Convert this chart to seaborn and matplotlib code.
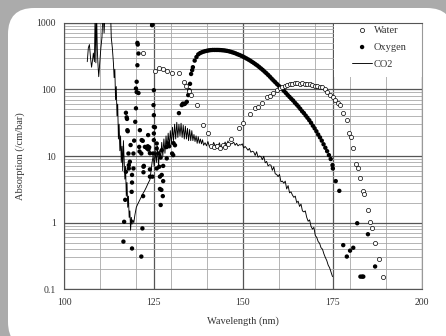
import numpy as np
import pandas as pd
import matplotlib
matplotlib.use("Agg")
import matplotlib.pyplot as plt
from matplotlib.patches import FancyBboxPatch, Rectangle
from matplotlib.ticker import FixedLocator, NullFormatter
import seaborn as sns

# ── Data ───────────────────────────────────────────────────────────
water_nm = [122.0, 125.3, 126.6, 127.7, 128.7, 130.2, 132.2, 133.5, 134.1, 134.8,
            135.4, 137.1, 138.9, 140.3, 141.2, 142.0, 142.8, 143.6, 144.3, 145.0,
            145.7, 146.6, 148.9, 150.1, 152.0, 153.4, 154.1, 155.2, 156.8, 157.6,
            158.5, 159.4, 160.3, 161.0, 161.7, 162.4, 163.1, 163.8, 164.5, 165.2,
            165.9, 166.6, 167.3, 168.0, 168.7, 169.4, 170.1, 170.8, 171.5, 172.2,
            172.9, 173.6, 174.3, 175.0, 175.7, 176.4, 177.1, 178.0, 179.0, 179.7,
            180.1, 180.8, 181.7, 182.2, 182.8, 183.6, 183.8, 184.9, 185.4, 185.9,
            186.9, 188.1, 189.0]
water_abs = [357, 190, 206, 199, 189, 177, 177, 129, 112, 95,
             82, 58, 29, 22, 14, 13.5, 14, 13, 14.5, 13.5,
             15, 18, 26, 31, 42.5, 52, 55, 61.5, 75.5, 80,
             87, 97, 103, 108, 112, 116, 120, 122, 123, 124,
             122, 123, 121, 122, 120, 117, 114, 112, 110, 107,
             100, 90, 82, 76, 70, 63, 58, 43.5, 34.5, 21.8,
             19.4, 13.3, 7.7, 6.6, 4.7, 3.0, 2.7, 1.55, 1.03, 0.84,
             0.49, 0.28, 0.155]

oxygen_nm = [
    # scattered band structure 116-131 nm
    116.6, 116.8, 117.1, 117.3, 117.5, 117.6, 117.7, 117.8, 118.0, 118.1,
    118.1, 117.3, 118.4, 118.6, 118.9, 119.0, 119.0, 119.0, 119.4, 119.4,
    119.6, 119.9, 120.1, 120.1, 120.3, 120.3, 120.5, 120.8, 120.5, 120.6,
    120.8, 121.0, 121.1, 121.2, 121.6, 121.6, 121.7, 121.9, 122.0, 122.1,
    122.2, 122.2, 122.3, 122.6, 123.2, 123.4, 123.6, 123.5, 123.8, 124.0,
    124.0, 124.0, 124.6, 124.7, 124.7, 124.9, 125.0, 125.1, 125.1, 125.1,
    125.4, 125.1, 125.1, 125.9, 125.9, 125.9, 126.3, 126.6, 126.8, 126.8,
    127.0, 127.0, 127.2, 127.3, 127.3, 127.6, 127.7, 127.7, 128.6, 128.7,
    129.1, 129.4, 130.2, 130.5, 130.6, 131.0,
    # continuum
    132.1, 132.9, 133.2, 133.5, 133.8, 134.3, 134.7, 135.0, 135.2, 135.5,
    135.8, 136.0, 136.5, 137.0, 137.5, 138.0, 138.5, 139.0, 139.5, 140.0,
    140.5, 141.0, 141.5, 142.0, 142.5, 143.0, 143.5, 144.0, 144.5, 145.0,
    145.5, 146.0, 146.5, 147.0, 147.5, 148.0, 148.5, 149.0, 149.5, 150.0,
    150.5, 151.0, 151.5, 152.0, 152.5, 153.0, 153.5, 154.0, 154.5, 155.0,
    155.5, 156.0, 156.5, 157.0, 157.5, 158.0, 158.5, 159.0, 159.5, 160.0,
    160.5, 161.0, 161.5, 162.0, 162.5, 163.0, 163.5, 164.0, 164.5, 165.0,
    165.5, 166.0, 166.5, 167.0, 167.5, 168.0, 168.5, 169.0, 169.5, 170.0,
    170.5, 171.0, 171.5, 172.0, 172.5, 173.0, 173.5, 174.0, 174.5, 175.0,
    175.1,
    # tail
    175.9, 176.9, 178.0, 179.0, 179.9, 180.8, 181.9, 182.8, 183.3, 183.6,
    184.9, 186.9]
oxygen_abs = [
    0.52, 1.03, 2.2, 44.5, 38, 36, 24.4, 23.5, 10.9, 7.3,
    6.5, 5.8, 8.2, 14.6, 2.9, 4.0, 5.2, 0.41, 10.9, 6.5,
    17, 32.6, 52, 103, 91, 130, 230, 345, 498, 470,
    88, 13.7, 11.7, 24.4, 10.9, 0.31, 17.3, 0.82, 16.9, 2.5,
    5.7, 6.9, 7.1, 13.7, 13, 14, 12.5, 20.6, 13.5, 6.3,
    11, 4.9, 917, 950, 4.9, 10.9, 58, 97, 41, 27.4,
    27, 21.8, 17.3, 13, 15.4, 6.5, 10.9, 6.9, 4.9, 3.2,
    9.5, 1.84, 3.1, 12.2, 5.2, 2.5, 7.1, 4.2, 13.6, 9.2,
    15.4, 14, 10.9, 10.3, 15.6, 14.5,
    44, 58, 61, 60, 61, 65, 82, 97, 121, 170,
    194, 215, 270, 305, 335, 350, 360, 368, 375, 380,
    385, 388, 390, 390, 390, 390, 389, 387, 385, 382,
    378, 373, 367, 360, 353, 345, 336, 328, 319, 310,
    300, 290, 280, 270, 259, 249, 238, 228, 217, 206,
    196, 185, 175, 165, 155, 145, 136, 128, 120, 113,
    106, 100, 94, 88, 82, 77, 72, 68, 63, 59,
    55, 51, 47, 44, 40.5, 37.5, 34.5, 31.5, 28.5, 26,
    23.5, 21, 19, 17, 15, 13.3, 11.8, 10.3, 9, 7.3,
    6.5,
    4.2, 3.0, 0.46, 0.31, 0.38, 0.42, 0.98, 0.155, 0.155, 0.155,
    0.67, 0.22]

co2_nm = [106.5, 106.8, 107.1, 107.4, 107.7, 108.0, 108.2, 108.5, 108.7, 108.9,
          109.1, 109.3, 109.5, 109.7, 110.0, 110.3, 110.6, 110.9, 111.2, 111.5,
          111.8, 112.5, 113.0, 113.2, 113.5, 113.8, 114.0, 114.2, 114.4, 114.6,
          114.8, 115.0, 115.2, 115.4, 115.6, 115.8, 116.0, 116.2, 116.4, 116.6,
          116.8, 117.0, 117.2, 117.4, 117.6, 117.8, 118.0, 118.2, 118.4, 118.6,
          118.8, 119.0, 119.2, 119.5, 119.8, 120.2, 120.6, 121.0, 121.5, 122.0,
          122.5, 123.0, 123.5, 124.0, 124.3, 124.6, 124.9, 125.2, 125.5, 125.8,
          126.1, 126.4, 126.7, 127.0, 127.3, 127.6, 127.9, 128.2, 128.5, 128.8,
          129.1, 129.4, 129.7, 130.0, 130.3, 130.6, 130.9, 131.2, 131.5, 131.8,
          132.1, 132.4, 132.7, 133.0, 133.3, 133.6, 133.9, 134.2, 134.5, 134.8,
          135.1, 135.4, 135.7, 136.0, 136.3, 136.6, 136.9, 137.2, 137.5, 137.8,
          138.1, 138.4, 138.7, 139.0, 139.4, 139.8, 140.2, 140.6, 141.0, 141.4,
          141.8, 142.2, 142.6, 143.0, 143.4, 143.8, 144.2, 144.6, 145.0, 145.4,
          145.8, 146.2, 146.6, 147.0, 147.4, 147.8, 148.2, 148.6, 149.0, 149.4,
          149.8, 150.2, 150.6, 151.0, 151.4, 151.8, 152.2, 152.6, 153.0, 153.4,
          153.8, 154.2, 154.6, 155.0, 155.4, 155.8, 156.2, 156.6, 157.0, 157.4,
          157.8, 158.2, 158.6, 159.0, 159.4, 159.8, 160.2, 160.6, 161.0, 161.4,
          161.8, 162.2, 162.6, 163.0, 163.4, 163.8, 164.2, 164.6, 165.0, 165.4,
          165.8, 166.2, 166.6, 167.0, 167.4, 167.8, 168.2, 168.6, 169.0, 169.4,
          169.8, 170.2, 170.6, 171.0, 171.4, 171.8, 172.2, 172.6, 173.0, 173.4,
          173.8, 174.2, 174.6, 175.0]
co2_abs = [260, 420, 470, 300, 215, 280, 350, 260, 1500, 250,
           1500, 400, 230, 155, 260, 420, 600, 1500, 700, 1500,
           1500, 1500, 1500, 600, 420, 250, 150, 200, 70, 110,
           40, 60, 18, 30, 12, 20, 8, 14, 6, 17,
           9, 4.5, 7, 2.5, 4, 1.7, 2.5, 1.2, 1.5, 0.77,
           1.2, 0.95, 1.1, 1.0, 1.3, 1.7, 1.9, 2.1, 2.4, 2.7,
           3.0, 3.4, 3.9, 4.4, 6, 8, 10, 7, 12, 8,
           14, 7, 12, 9, 16, 10, 18, 11, 20, 13,
           22, 14, 24, 15, 27, 17, 30, 18, 32, 19,
           30, 20, 31, 19, 29, 18, 28, 18, 26, 17,
           25, 17, 24, 17, 21, 16.5, 20, 15.5, 19.5, 15.5,
           18, 15.2, 17.5, 14.5, 15.8, 14.2, 16.5, 13.8, 14.6, 13.5,
           16, 14.2, 14.8, 13.6, 15.8, 13.4, 14.5, 14.1, 16.2, 14.3,
           16.8, 14.6, 15.2, 15.4, 16.1, 14.5, 15.5, 14.2, 14.8, 14.6,
           15.2, 13.2, 13.9, 13.1, 12.2, 13.0, 11.4, 11.8, 11.5, 10.2,
           11.6, 9.6, 10.0, 9.8, 8.8, 9.9, 7.9, 8.3, 7.1, 7.4,
           7.3, 6.1, 6.9, 5.4, 5.3, 4.9, 5.3, 4.1, 4.2, 3.9,
           4.2, 3.2, 3.6, 2.8, 2.9, 2.6, 2.4, 2.5, 2.0, 2.1,
           1.75, 1.9, 1.5, 1.45, 1.5, 1.2, 1.05, 1.1, 0.88, 0.8,
           0.85, 0.64, 0.6, 0.52, 0.49, 0.42, 0.4, 0.34, 0.3, 0.27,
           0.23, 0.21, 0.18, 0.155]

x_ticks = [100, 125, 150, 175, 200]
y_ticks = [0.1, 1, 10, 100, 1000]
y_tick_labels = ["0.1", "1", "10", "100", "1000"]

water = pd.DataFrame({"nm": water_nm, "abs": water_abs})
oxygen = pd.DataFrame({"nm": oxygen_nm, "abs": oxygen_abs})
co2 = pd.DataFrame({"nm": co2_nm, "abs": co2_abs})

# ── Style ──────────────────────────────────────────────────────────
sns.set_style("white")
plt.rcParams["font.family"] = ["Liberation Serif", "DejaVu Serif"]
plt.rcParams["font.size"] = 7

fig = plt.figure(figsize=(4.46, 3.36), dpi=100)
fig.patch.set_facecolor("#ababab")

# white rounded card behind the chart (own axes at the very back)
bg = fig.add_axes([0, 0, 1, 1], zorder=-10)
bg.set_axis_off()
bg.set_xlim(0, 446)
bg.set_ylim(0, 336)
bg.add_patch(FancyBboxPatch((8, -12), 445, 340,
                            boxstyle="round,pad=0,rounding_size=26",
                            facecolor="white", edgecolor="none"))

ax = fig.add_axes([64 / 446, 1 - 289.3 / 336, 358 / 446, 266.6 / 336])
ax.set_facecolor("white")

# ── Plot ───────────────────────────────────────────────────────────
sns.lineplot(data=co2, x="nm", y="abs", ax=ax, sort=False, color="black",
             linewidth=0.65, label="CO2", zorder=3)
sns.scatterplot(data=oxygen, x="nm", y="abs", ax=ax, marker="o", s=10,
                color="black", edgecolor="none", label="Oxygen", zorder=4)
sns.scatterplot(data=water, x="nm", y="abs", ax=ax, marker="o", s=9,
                facecolor="white", edgecolor="black", linewidth=0.5,
                label="Water", zorder=5)

ax.set_yscale("log")
ax.set_xlim(100, 200)
ax.set_ylim(0.1, 1000)

# ── Grid ───────────────────────────────────────────────────────────
ax.xaxis.set_major_locator(FixedLocator(x_ticks))
ax.xaxis.set_minor_locator(FixedLocator([110, 120, 130, 140, 160, 170, 180, 190]))
ax.yaxis.set_major_locator(FixedLocator(y_ticks))
minor_y = [m * 10.0 ** e for e in range(-1, 3) for m in range(2, 10)]
ax.yaxis.set_minor_locator(FixedLocator(minor_y))
ax.yaxis.set_minor_formatter(NullFormatter())
ax.set_xticklabels([str(t) for t in x_ticks])
ax.set_yticklabels(y_tick_labels)

ax.set_axisbelow(True)
ax.grid(which="major", color="#555555", linewidth=0.9)
ax.grid(which="minor", color="#a8a8a8", linewidth=0.6)
ax.tick_params(which="minor", length=0)
ax.tick_params(which="major", direction="out", length=3, width=0.8,
               color="#333333", labelcolor="#333333", pad=3, labelsize=7)

for side in ["left", "bottom", "top", "right"]:
    ax.spines[side].set_color("#555555")
    ax.spines[side].set_linewidth(0.8)
ax.spines["right"].set_color("#999999")

# white block behind the legend hides the grid there
ax.add_patch(Rectangle((175.3, 152), 24.6, 848, facecolor="white",
                       edgecolor="none", zorder=1))

ax.set_xlabel("Wavelength (nm)", fontsize=7.5, color="#333333", labelpad=7)
ax.set_ylabel("Absorption (/cm/bar)", fontsize=7.5, color="#333333", labelpad=8)

handles, labels = ax.get_legend_handles_labels()
order = [labels.index(n) for n in ["Water", "Oxygen", "CO2"]]
ax.legend([handles[i] for i in order], [labels[i] for i in order],
          loc="upper left", bbox_to_anchor=(0.805, 0.99), frameon=False,
          fontsize=7.5, handlelength=1.9, handletextpad=0.15,
          labelspacing=0.75, borderpad=0, borderaxespad=0, markerscale=1.0,
          labelcolor="#333333")

fig.savefig("out.png", dpi=100, facecolor=fig.get_facecolor())
